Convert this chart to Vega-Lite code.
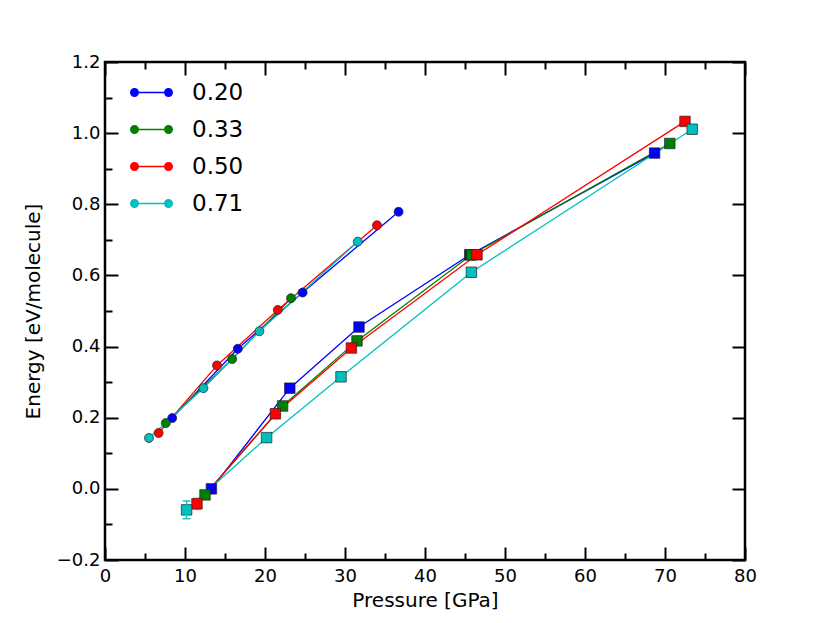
{
  "$schema": "https://vega.github.io/schema/vega-lite/v6.json",
  "width": 640,
  "height": 498,
  "autosize": {"type": "none"},
  "padding": {"left": 105, "top": 62, "right": 85, "bottom": 63},
  "config": {
    "font": "DejaVu Sans",
    "view": {"stroke": "black", "strokeWidth": 2.5},
    "axis": {
      "domain": false,
      "grid": false,
      "tickColor": "black",
      "tickWidth": 2,
      "tickSize": -13,
      "labelFlush": false,
      "labelFontSize": 18,
      "labelColor": "black",
      "titleFontSize": 20,
      "titleFontWeight": "normal",
      "titleColor": "black"
    }
  },
  "datasets": {
    "pts": [
      {"series": "0.20", "kind": "circle", "P": 8.4, "E": 0.199},
      {"series": "0.20", "kind": "circle", "P": 16.6, "E": 0.394},
      {"series": "0.20", "kind": "circle", "P": 24.7, "E": 0.552},
      {"series": "0.20", "kind": "circle", "P": 36.7, "E": 0.779},
      {"series": "0.20", "kind": "square", "P": 13.3, "E": 0.0},
      {"series": "0.20", "kind": "square", "P": 23.1, "E": 0.283},
      {"series": "0.20", "kind": "square", "P": 31.75, "E": 0.455},
      {"series": "0.20", "kind": "square", "P": 45.6, "E": 0.658},
      {"series": "0.20", "kind": "square", "P": 68.7, "E": 0.944},
      {"series": "0.33", "kind": "circle", "P": 7.6, "E": 0.185},
      {"series": "0.33", "kind": "circle", "P": 15.9, "E": 0.365},
      {"series": "0.33", "kind": "circle", "P": 23.25, "E": 0.536},
      {"series": "0.33", "kind": "square", "P": 12.5, "E": -0.017},
      {"series": "0.33", "kind": "square", "P": 22.2, "E": 0.233},
      {"series": "0.33", "kind": "square", "P": 31.5, "E": 0.416},
      {"series": "0.33", "kind": "square", "P": 45.8, "E": 0.658},
      {"series": "0.33", "kind": "square", "P": 70.6, "E": 0.971},
      {"series": "0.50", "kind": "circle", "P": 6.7, "E": 0.157},
      {"series": "0.50", "kind": "circle", "P": 14.0, "E": 0.347},
      {"series": "0.50", "kind": "circle", "P": 21.6, "E": 0.503},
      {"series": "0.50", "kind": "circle", "P": 34.0, "E": 0.741},
      {"series": "0.50", "kind": "square", "P": 11.5, "E": -0.042},
      {"series": "0.50", "kind": "square", "P": 21.3, "E": 0.211},
      {"series": "0.50", "kind": "square", "P": 30.8, "E": 0.396},
      {"series": "0.50", "kind": "square", "P": 46.5, "E": 0.658},
      {"series": "0.50", "kind": "square", "P": 72.5, "E": 1.033},
      {"series": "0.71", "kind": "circle", "P": 5.5, "E": 0.143},
      {"series": "0.71", "kind": "circle", "P": 12.3, "E": 0.283},
      {"series": "0.71", "kind": "circle", "P": 19.3, "E": 0.443},
      {"series": "0.71", "kind": "circle", "P": 31.6, "E": 0.695},
      {"series": "0.71", "kind": "square", "P": 10.2, "E": -0.059},
      {"series": "0.71", "kind": "square", "P": 20.2, "E": 0.144},
      {"series": "0.71", "kind": "square", "P": 29.5, "E": 0.315},
      {"series": "0.71", "kind": "square", "P": 45.8, "E": 0.609},
      {"series": "0.71", "kind": "square", "P": 73.4, "E": 1.011}
    ],
    "err": [
      {"series": "0.50", "P": 11.5, "lo": -0.058, "hi": -0.026, "op": 0.45},
      {"series": "0.71", "P": 10.2, "lo": -0.084, "hi": -0.034, "op": 1}
    ]
  },
  "layer": [
    {
      "data": {"name": "pts"},
      "encoding": {
        "x": {
          "field": "P",
          "type": "quantitative",
          "scale": {"domain": [0, 80], "nice": false},
          "axis": {
            "orient": "bottom",
            "values": [0, 5, 10, 15, 20, 25, 30, 35, 40, 45, 50, 55, 60, 65, 70, 75, 80],
            "format": "d",
            "labelExpr": "datum.value % 10 === 0 ? datum.label : ''",
            "tickDash": {"condition": {"test": "datum.value % 10 !== 0", "value": [7, 40]}, "value": [40, 0]},
            "labelPadding": 20,
            "titlePadding": 5,
            "title": "Pressure [GPa]"
          }
        },
        "y": {
          "field": "E",
          "type": "quantitative",
          "scale": {"domain": [-0.2, 1.2], "nice": false, "zero": false},
          "axis": {
            "orient": "left",
            "values": [-0.2, -0.1, 0, 0.1, 0.2, 0.3, 0.4, 0.5, 0.6, 0.7, 0.8, 0.9, 1.0, 1.1, 1.2],
            "format": ".1f",
            "labelExpr": "abs(round(datum.value * 10)) % 2 === 0 ? datum.label : ''",
            "tickDash": {"condition": {"test": "abs(round(datum.value * 10)) % 2 === 1", "value": [7, 40]}, "value": [40, 0]},
            "labelPadding": 18,
            "titlePadding": 13,
            "title": "Energy [eV/molecule]"
          }
        },
        "color": {
          "field": "series",
          "type": "nominal",
          "scale": {"domain": ["0.20", "0.33", "0.50", "0.71"], "range": ["#0000ff", "#008000", "#ff0000", "#00bfbf"]},
          "legend": {
            "title": null,
            "orient": "none",
            "legendX": 35,
            "legendY": 19,
            "symbolType": "M-2.15,0A0.45,0.45,0,1,1,-1.25,0A0.45,0.45,0,1,1,-2.15,0ZM1.25,0A0.45,0.45,0,1,1,2.15,0A0.45,0.45,0,1,1,1.25,0ZM-1.7,-0.065L1.7,-0.065L1.7,0.065L-1.7,0.065Z",
            "symbolSize": 400,
            "symbolStrokeWidth": 0,
            "symbolOpacity": 1,
            "labelFontSize": 23,
            "labelColor": "black",
            "labelOffset": 29,
            "rowPadding": 13
          }
        }
      },
      "layer": [
        {
          "mark": {"type": "line", "strokeWidth": 1.3},
          "encoding": {
            "detail": {"field": "kind"}
          }
        },
        {
          "mark": {"type": "point", "filled": true, "opacity": 1, "stroke": "#222", "strokeWidth": 0.7},
          "encoding": {
            "shape": {
              "field": "kind",
              "type": "nominal",
              "scale": {"domain": ["circle", "square"], "range": ["circle", "square"]},
              "legend": null
            },
            "size": {
              "field": "kind",
              "type": "nominal",
              "scale": {"domain": ["circle", "square"], "range": [81, 110]},
              "legend": null
            }
          }
        }
      ]
    },
    {
      "data": {"name": "err"},
      "encoding": {
        "x": {
          "field": "P",
          "type": "quantitative",
          "scale": {"domain": [0, 80], "nice": false},
          "axis": {
            "orient": "top",
            "values": [0, 5, 10, 15, 20, 25, 30, 35, 40, 45, 50, 55, 60, 65, 70, 75, 80],
            "labels": false,
            "title": null,
            "tickDash": {"condition": {"test": "datum.value % 10 !== 0", "value": [7, 40]}, "value": [40, 0]}
          }
        },
        "color": {
          "field": "series",
          "type": "nominal"
        },
        "opacity": {"field": "op", "type": "quantitative", "scale": null, "legend": null}
      },
      "layer": [
        {
          "mark": {"type": "rule", "strokeWidth": 1.3},
          "encoding": {
            "y": {
              "field": "lo",
              "type": "quantitative",
              "scale": {"domain": [-0.2, 1.2], "nice": false, "zero": false},
              "axis": {
                "orient": "right",
                "values": [-0.2, -0.1, 0, 0.1, 0.2, 0.3, 0.4, 0.5, 0.6, 0.7, 0.8, 0.9, 1.0, 1.1, 1.2],
                "labels": false,
                "title": null,
                "tickDash": {"condition": {"test": "abs(round(datum.value * 10)) % 2 === 1", "value": [7, 40]}, "value": [40, 0]}
              }
            },
            "y2": {"field": "hi"}
          }
        },
        {
          "mark": {"type": "tick", "orient": "horizontal", "size": 8, "thickness": 1.3},
          "encoding": {"y": {"field": "lo", "type": "quantitative"}}
        },
        {
          "mark": {"type": "tick", "orient": "horizontal", "size": 8, "thickness": 1.3},
          "encoding": {"y": {"field": "hi", "type": "quantitative"}}
        }
      ]
    }
  ],
  "resolve": {"scale": {"x": "independent", "y": "independent"}}
}
